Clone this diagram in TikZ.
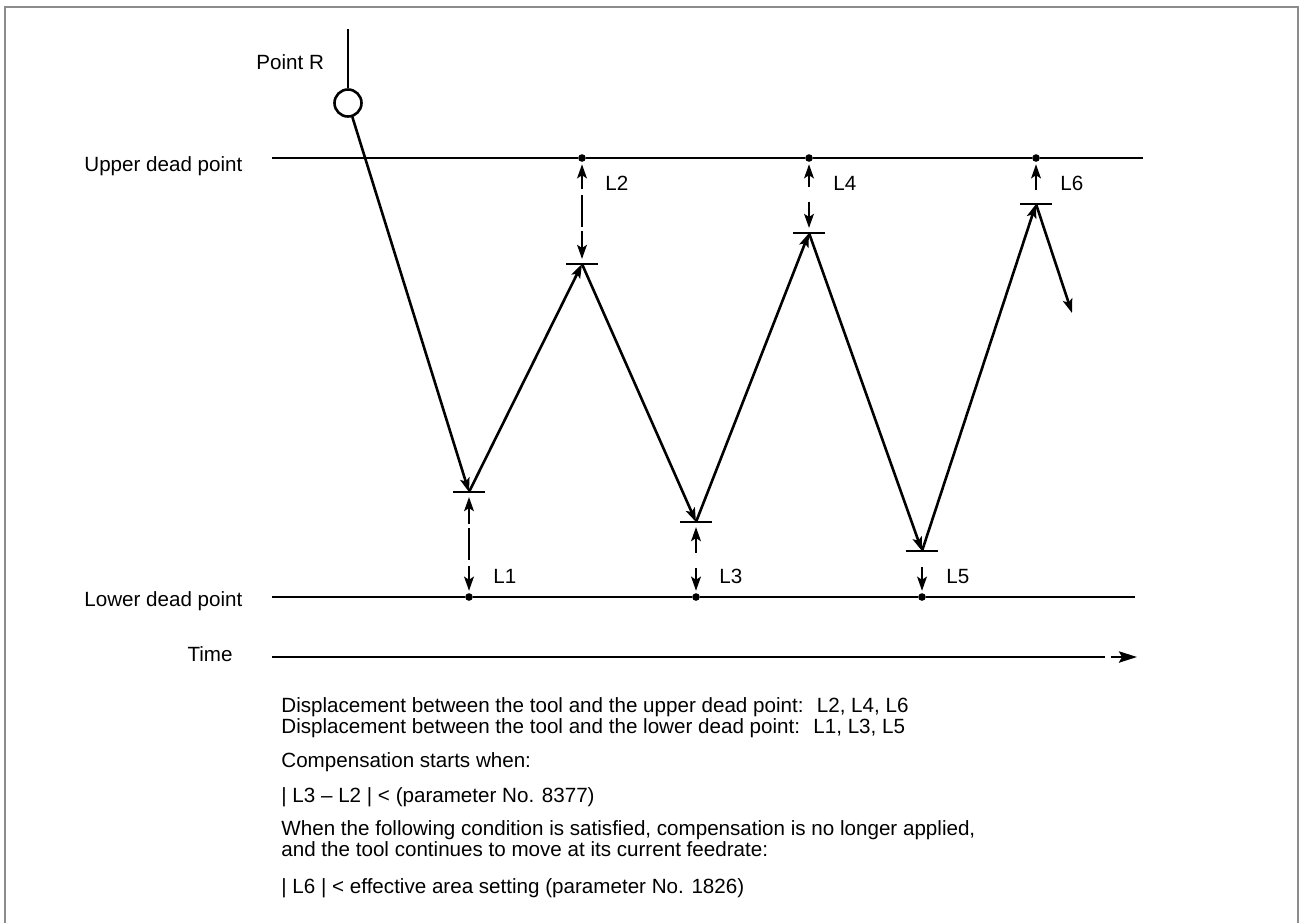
\documentclass[tikz,border=0pt]{standalone}
\usepackage{fontspec}
\setmainfont{Liberation Sans}
\usetikzlibrary{arrows.meta}
\newcommand{\figfont}{\fontsize{10.3pt}{12pt}\selectfont}

\begin{document}
\begin{tikzpicture}[x=0.5pt,y=-0.5pt,
    >={Stealth[length=7pt,width=4.8pt,inset=1.5pt]},
    stroke/.style={line width=1.3pt},
    move/.style={stroke,->},
    bigmove/.style={stroke,-{Stealth[length=9pt,width=5.6pt,inset=1.5pt]}},
    dimlong/.style={stroke,<->,shorten <=1pt,shorten >=2.5pt,
        dash pattern=on 7.5pt off 3pt on 16pt off 2pt on 10pt off 10pt},
    dimshort/.style={stroke,<->,shorten <=1pt,shorten >=2.5pt,
        dash pattern=on 6.5pt off 7.5pt on 10pt off 10pt},
    dot/.style={circle,fill=black,minimum size=3.8pt,inner sep=0pt},
    frame/.style={draw=black!45,line width=1pt},
    txt/.style={font=\figfont,anchor=base west,inner sep=0pt}]

\useasboundingbox (0,0) rectangle (1300,923);
\draw[frame] (5,923) -- (5,7) -- (1298,7) -- (1298,923);

% Labels on the left
\node[txt] (pointR) at (256,69) {Point R};
\node[txt] (upper) at (84,171) {Upper dead point};
\node[txt] (lower) at (84,606) {Lower dead point};
\node[txt,anchor=base east] (time) at (233,661) {Time};

% Start point R
\coordinate (rtop) at (348,29);
\node[circle,draw,stroke,minimum size=13.5pt,inner sep=0pt] (R) at (348,103) {};
\draw[stroke] (rtop) -- (R);

% Dead point levels with their dots
\coordinate (ustart) at (272,158);
\coordinate (uend) at (1143,158);
\node[dot] (d2) at (582,158) {};
\node[dot] (d4) at (809,158) {};
\node[dot] (d6) at (1036,158) {};
\coordinate (lstart) at (272,597);
\coordinate (lend) at (1135,597);
\node[dot] (d1) at (469,597) {};
\node[dot] (d3) at (696,597) {};
\node[dot] (d5) at (922,597) {};

\draw[stroke] (ustart) -- ([xshift=-7pt]d2);
\draw[stroke] ([xshift=7pt]d2) -- ([xshift=-7pt]d4);
\draw[stroke] ([xshift=7pt]d4) -- ([xshift=-7pt]d6);
\draw[stroke] ([xshift=7pt]d6) -- (uend);
\draw[stroke] (lstart) -- ([xshift=-7pt]d1);
\draw[stroke] ([xshift=7pt]d1) -- ([xshift=-7pt]d3);
\draw[stroke] ([xshift=7pt]d3) -- ([xshift=-7pt]d5);
\draw[stroke] ([xshift=7pt]d5) -- (lend);

% Time axis
\coordinate (tstart) at (272,657);
\coordinate (tbreak) at (1105,657);
\coordinate (tresume) at (1111,657);
\coordinate (tend) at (1137,657);
\draw[stroke] (tstart) -- (tbreak);
\draw[bigmove] (tresume) -- (tend);

% Turning points of the tool
\coordinate (t1) at (469,492);
\coordinate (t2) at (582,264);
\coordinate (t3) at (696,522);
\coordinate (t4) at (809,233);
\coordinate (t5) at (922,551);
\coordinate (t6) at (1036,204);
\coordinate (exit) at (1072,313);
\foreach \t in {t1,t2,t3,t4,t5,t6}
  \draw[stroke] ([xshift=-8pt]\t) -- ([xshift=8pt]\t);

% Tool path
\draw[move] (R) -- (t1);
\draw[move] (t1) -- (t2);
\draw[move] (t2) -- (t3);
\draw[move] (t3) -- (t4);
\draw[move] (t4) -- (t5);
\draw[move] (t5) -- (t6);
\draw[move] (t6) -- (exit);

% Displacements
\draw[dimlong] (d1) -- (t1);
\draw[dimlong] (d2) -- (t2);
\draw[dimshort] (d3) -- (t3);
\draw[dimshort] (d4) -- (t4);
\draw[move,shorten <=8pt,shorten >=1pt] (t5) -- (d5);
\draw[move,shorten <=7pt,shorten >=1pt] (t6) -- (d6);

\node[txt] (l1) at (493,583) {L1};
\node[txt] (l3) at (719,583) {L3};
\node[txt] (l5) at (946,583) {L5};
\node[txt] (l2) at (605,190) {L2};
\node[txt] (l4) at (833,190) {L4};
\node[txt] (l6) at (1060,190) {L6};

% Notes under the diagram
\node[txt] (note1) at (281,712) {Displacement between the tool and the upper dead point: \ L2, L4, L6};
\node[txt] (note2) at (281,733) {Displacement between the tool and the lower dead point: \ L1, L3, L5};
\node[txt] (note3) at (281,767) {Compensation starts when:};
\node[txt] (note4) at (281,802) {| L3 – L2 | < (parameter No. 8377)};
\node[txt] (note5) at (281,835) {When the following condition is satisfied, compensation is no longer applied,};
\node[txt] (note6) at (281,856) {and the tool continues to move at its current feedrate:};
\node[txt] (note7) at (281,893) {| L6 | < effective area setting (parameter No. 1826)};

\end{tikzpicture}
\end{document}
